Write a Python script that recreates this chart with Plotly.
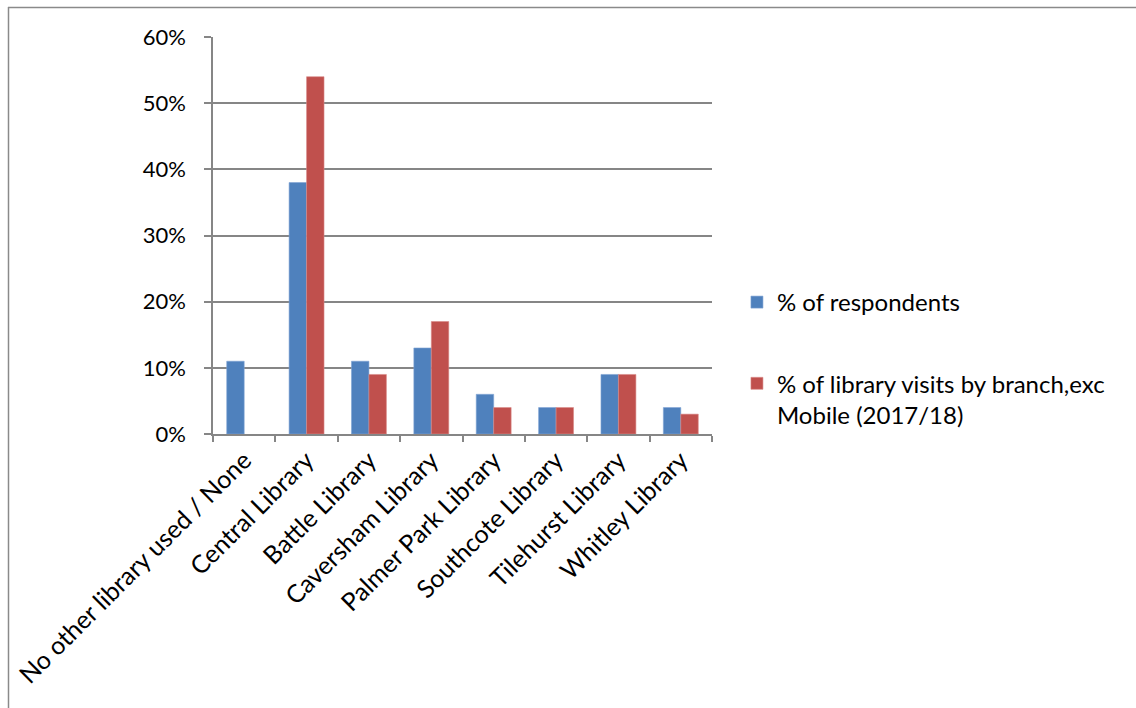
import plotly.graph_objects as go

categories = ["No other library used / None", "Central Library", "Battle Library",
              "Caversham Library", "Palmer Park Library", "Southcote Library",
              "Tilehurst Library", "Whitley Library"]
respondents = [11, 38, 11, 13, 6, 4, 9, 4]
visits = [None, 54, 9, 17, 4, 4, 9, 3]
series_names = ["% of respondents", "% of library visits by branch,exc<br>Mobile (2017/18)"]

W, H = 1136, 708
L, R, T, B = 213, 424, 37, 274
pw, ph = W - L - R, H - T - B

def px(x):
    return (x - L) / pw

def py(y):
    return (H - B - y) / ph

FONT = "Lato"
fig = go.Figure()
fig.add_trace(go.Bar(x=categories, y=respondents, name=series_names[0],
                     marker=dict(color="#4F81BD", line=dict(color="#7FA3D4", width=0.6)),
                     legendgroup="a"))
fig.add_trace(go.Bar(x=categories, y=visits, name=series_names[1],
                     marker=dict(color="#C0504D", line=dict(color="#D88A88", width=0.6)),
                     legendgroup="b"))

fig.update_layout(
    width=W, height=H,
    margin=dict(l=L, r=R, t=T, b=B),
    paper_bgcolor="white", plot_bgcolor="white",
    barmode="group", bargap=0.44, bargroupgap=0,
    font=dict(family=FONT, size=22, color="black"),
    showlegend=True,
    legend=dict(x=1.05, y=py(280), xanchor="left", yanchor="top",
                traceorder="grouped", tracegroupgap=47, valign="top",
                font=dict(family=FONT, size=24, color="black"),
                bgcolor="rgba(0,0,0,0)"),
    xaxis=dict(type="category", showline=True, linecolor="#868686", linewidth=1.5,
               ticks="outside", ticklen=6, tickcolor="#868686", tickwidth=1.5,
               tickson="boundaries", tickangle=-45, showgrid=False,
               tickfont=dict(family=FONT, size=25, color="black")),
    yaxis=dict(range=[0, 60], dtick=10, ticksuffix="%", showline=True,
               linecolor="#868686", linewidth=1.5, ticks="outside", ticklen=7,
               tickcolor="#868686", tickwidth=1.5, showgrid=True,
               gridcolor="#868686", gridwidth=1.5, zeroline=False,
               ticklabelstandoff=14,
               tickfont=dict(family=FONT, size=22, color="black")),
    shapes=[
        dict(type="line", xref="paper", yref="paper", x0=px(8), x1=px(1140),
             y0=py(7.5), y1=py(7.5), line=dict(color="#8a8a8a", width=1.5)),
        dict(type="line", xref="paper", yref="paper", x0=px(8.5), x1=px(8.5),
             y0=py(7), y1=py(712), line=dict(color="#8a8a8a", width=1.5)),
    ],
)

fig.write_html("out.html")
